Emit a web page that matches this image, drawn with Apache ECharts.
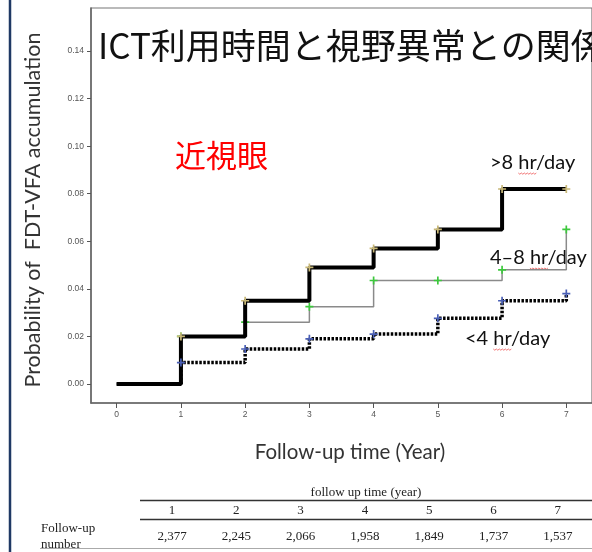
<!DOCTYPE html>
<html>
<head>
<meta charset="utf-8">
<script src="https://cdn.jsdelivr.net/npm/echarts@6/dist/echarts.min.js"></script>
<style>
  html, body { margin: 0; padding: 0; background: #fff; }
  #chart { width: 592px; height: 552px; }
</style>
</head>
<body>
<div id="chart"></div>
<script>
// Cumulative probability of FDT-VFA by daily ICT use (Kaplan–Meier style steps)
const years = [0, 1, 2, 3, 4, 5, 6, 7];
const over8h = [0, 0.020, 0.035, 0.049, 0.057, 0.065, 0.082, 0.082];
const from4to8h = [0, 0.020, 0.026, 0.0325, 0.0435, 0.0435, 0.048, 0.065];
const under4h = [0, 0.009, 0.0147, 0.019, 0.021, 0.0276, 0.035, 0.038];
const yTicks = [0, 0.02, 0.04, 0.06, 0.08, 0.10, 0.12, 0.14];
const xTicks = [0, 1, 2, 3, 4, 5, 6, 7];
const groupLabels = ['>8 hr/day', '4\u20138 hr/day', '<4 hr/day'];
const tableYears = ['1', '2', '3', '4', '5', '6', '7'];
const followUpNumbers = ['2,377', '2,245', '2,066', '1,958', '1,849', '1,737', '1,537'];

const plusSymbol = 'path://M3,0 h1.6 v3 h3 v1.6 h-3 v3 h-1.6 v-3 h-3 v-1.6 h3 z';

function stepData(values) {
  return years.map((x, i) => i === 0
    ? { value: [x, values[i]], symbol: 'none' }
    : [x, values[i]]);
}

const chart = echarts.init(document.getElementById('chart'), null, { renderer: 'canvas' });

const sans = 'Lato, "Open Sans", sans-serif';
const serif = '"Liberation Serif", "DejaVu Serif", serif';
const labelFont = '20px ' + sans;

const measureCtx = document.createElement('canvas').getContext('2d');
function textWidth(str, font) { measureCtx.font = font; return measureCtx.measureText(str).width; }

// table under the chart
const tableGraphics = [];
const colX0 = 172, colStep = 64.3;
tableGraphics.push({ type: 'text', x: 366, y: 493,
  style: { text: 'follow up time (year)', font: '13px ' + serif, fill: '#222', align: 'center', verticalAlign: 'middle' } });
tableGraphics.push({ type: 'line', shape: { x1: 140, y1: 500.5, x2: 592, y2: 500.5 }, style: { stroke: '#333', lineWidth: 1.5 } });
tableGraphics.push({ type: 'line', shape: { x1: 140, y1: 519.5, x2: 592, y2: 519.5 }, style: { stroke: '#333', lineWidth: 1.5 } });
tableGraphics.push({ type: 'line', shape: { x1: 40, y1: 548.5, x2: 592, y2: 548.5 }, style: { stroke: '#aaa', lineWidth: 1 } });
tableYears.forEach((t, i) => {
  tableGraphics.push({ type: 'text', x: colX0 + colStep * i, y: 511,
    style: { text: t, font: '13px ' + serif, fill: '#222', align: 'center', verticalAlign: 'middle' } });
  tableGraphics.push({ type: 'text', x: colX0 + colStep * i, y: 537,
    style: { text: followUpNumbers[i], font: '13px ' + serif, fill: '#222', align: 'center', verticalAlign: 'middle' } });
});
tableGraphics.push({ type: 'text', x: 41, y: 529,
  style: { text: 'Follow-up', font: '13px ' + serif, fill: '#222', align: 'left', verticalAlign: 'middle' } });
tableGraphics.push({ type: 'text', x: 41, y: 545,
  style: { text: 'number', font: '13px ' + serif, fill: '#222', align: 'left', verticalAlign: 'middle' } });

// group labels with the red wavy spell-check mark under "hr"
function wavy(x, y, w) {
  const pts = [];
  for (let k = 0; k <= w; k += 1.5) pts.push([x + k, y + ((k / 1.5) % 2 ? 1.2 : 0)]);
  return { type: 'polyline', shape: { points: pts }, style: { stroke: '#ee5555', lineWidth: 0.8, fill: null } };
}
function groupLabel(text, x, y) {
  const pre = text.slice(0, text.indexOf('hr'));
  const x0 = x + textWidth(pre, labelFont);
  const w = textWidth('hr', labelFont);
  return [
    { type: 'text', x: x, y: y, style: { text: text, font: labelFont, fill: '#111', align: 'left', verticalAlign: 'middle' } },
    wavy(x0, y + 10, w)
  ];
}

const option = {
  animation: false,
  backgroundColor: '#fff',
  grid: { left: 91, top: 8, right: -1, bottom: 149, show: true, borderColor: '#777', borderWidth: 1.2, backgroundColor: 'transparent' },
  xAxis: {
    type: 'value', min: -0.4, max: 7.4,
    axisLine: { show: true, onZero: false, lineStyle: { color: '#666', width: 1.5 } },
    splitLine: { show: false },
    axisTick: { show: true, customValues: xTicks, length: 5, inside: false, lineStyle: { color: '#555', width: 1 } },
    axisLabel: { show: true, customValues: xTicks, margin: 7, fontSize: 8.5, color: '#555', fontFamily: '"Liberation Sans", Arial, sans-serif' }
  },
  yAxis: {
    type: 'value', min: -0.008, max: 0.1581,
    axisLine: { show: true, onZero: false, lineStyle: { color: '#666', width: 1.5 } },
    splitLine: { show: false },
    axisTick: { show: true, customValues: yTicks, length: 4, lineStyle: { color: '#555', width: 1 } },
    axisLabel: { show: true, customValues: yTicks, margin: 7, fontSize: 8.5, color: '#555', fontFamily: '"Liberation Sans", Arial, sans-serif',
      formatter: v => v.toFixed(2) }
  },
  series: [
    {
      name: groupLabels[1], type: 'line', step: 'end', data: stepData(from4to8h), z: 2,
      symbol: plusSymbol, symbolSize: 8, showSymbol: true,
      lineStyle: { color: '#8a8a8a', width: 1.5 },
      itemStyle: { color: '#3cc83c' }
    },
    {
      name: groupLabels[0], type: 'line', step: 'end', data: stepData(over8h), z: 3,
      symbol: plusSymbol, symbolSize: 8, showSymbol: true,
      lineStyle: { color: '#000', width: 4 },
      itemStyle: { color: '#c8b878' }
    },
    {
      name: groupLabels[2], type: 'line', step: 'end', data: stepData(under4h), z: 4,
      symbol: plusSymbol, symbolSize: 8, showSymbol: true,
      lineStyle: { color: '#000', width: 3.5, type: [2.5, 1.5], cap: 'butt' },
      itemStyle: { color: '#4a5fb5' }
    }
  ],
  graphic: [
    { type: 'line', shape: { x1: 10, y1: 0, x2: 10, y2: 552 }, style: { stroke: '#1f3864', lineWidth: 2.5 } },
    { type: 'text', x: 33, y: 210, rotation: Math.PI / 2,
      style: { text: 'Probability of  FDT-VFA accumulation', font: '21.5px ' + sans, fill: '#333', align: 'center', verticalAlign: 'middle' } },
    { type: 'text', x: 350, y: 452,
      style: { text: 'Follow-up time (Year)', font: '20.5px ' + sans, fill: '#333', align: 'center', verticalAlign: 'middle' } },
    { type: 'text', x: 98, y: 46, z: 10,
      style: { text: 'ICT利用時間と視野異常との関係', font: '35px "Noto Sans CJK JP", sans-serif', fill: '#111', align: 'left', verticalAlign: 'middle' } },
    { type: 'text', x: 175, y: 155,
      style: { text: '近視眼', font: '31px "Noto Sans CJK JP", sans-serif', fill: '#ff0000', align: 'left', verticalAlign: 'middle' } }
  ]
    .concat(groupLabel(groupLabels[0], 490, 163))
    .concat(groupLabel(groupLabels[1], 490, 258))
    .concat(groupLabel(groupLabels[2], 465, 339))
    .concat(tableGraphics)
};

chart.setOption(option);
</script>
</body>
</html>
